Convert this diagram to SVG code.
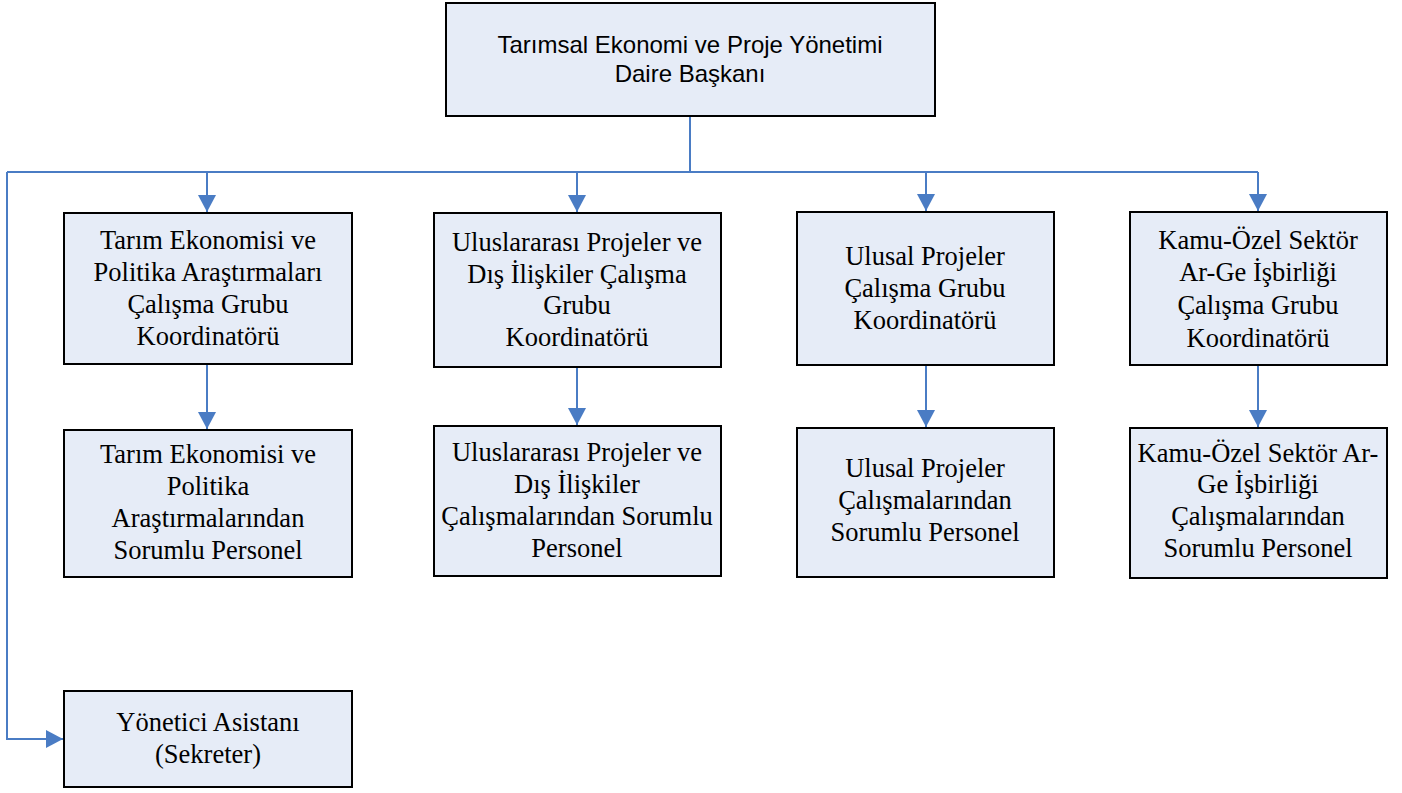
<svg xmlns="http://www.w3.org/2000/svg" width="1402" height="793" viewBox="0 0 1402 793">
<style>
.box{fill:#E6ECF7;stroke:#000;stroke-width:2}
.t{font-family:"Liberation Serif","Times New Roman",serif;font-size:26.5px;fill:#000;text-anchor:middle}
.s{font-family:"Liberation Sans",Arial,sans-serif;font-size:24px;fill:#000;text-anchor:middle}
.c{fill:none;stroke:#4A7CC4;stroke-width:2}
</style>
<defs>
<marker id="ah" markerWidth="17" markerHeight="18" viewBox="0 0 17 18" refX="17" refY="9" orient="auto" markerUnits="userSpaceOnUse">
<path d="M0,0 L17,9 L0,18 Z" fill="#4A7CC4"/>
</marker>
</defs>
<g id="connectors">
<path class="c" d="M690,116 V172"/>
<path class="c" d="M7,172 H1258"/>
<path class="c" d="M207,172 V212" marker-end="url(#ah)"/>
<path class="c" d="M577,172 V212" marker-end="url(#ah)"/>
<path class="c" d="M926,172 V211" marker-end="url(#ah)"/>
<path class="c" d="M1258,172 V211" marker-end="url(#ah)"/>
<path class="c" d="M207,364 V429" marker-end="url(#ah)"/>
<path class="c" d="M577,367 V425" marker-end="url(#ah)"/>
<path class="c" d="M926,365 V427" marker-end="url(#ah)"/>
<path class="c" d="M1258,365 V427" marker-end="url(#ah)"/>
<path class="c" d="M7,172 V739 H63" marker-end="url(#ah)"/>
</g>
<g id="n-top">
<rect class="box" x="446" y="3" width="489" height="113"/>
<text class="s" x="690" y="53">Tarımsal Ekonomi ve Proje Yönetimi</text>
<text class="s" x="690" y="82">Daire Başkanı</text>
</g>
<g id="n-c1">
<rect class="box" x="64" y="213" width="288" height="151"/>
<text class="t" x="208" y="249">Tarım Ekonomisi ve</text>
<text class="t" x="208" y="281">Politika Araştırmaları</text>
<text class="t" x="208" y="313">Çalışma Grubu</text>
<text class="t" x="208" y="345">Koordinatörü</text>
</g>
<g id="n-c2">
<rect class="box" x="434" y="213" width="287" height="154"/>
<text class="t" x="577" y="251">Uluslararası Projeler ve</text>
<text class="t" x="577" y="283">Dış İlişkiler Çalışma</text>
<text class="t" x="577" y="314">Grubu</text>
<text class="t" x="577" y="346">Koordinatörü</text>
</g>
<g id="n-c3">
<rect class="box" x="797" y="212" width="257" height="153"/>
<text class="t" x="925" y="265">Ulusal Projeler</text>
<text class="t" x="925" y="297">Çalışma Grubu</text>
<text class="t" x="925" y="329">Koordinatörü</text>
</g>
<g id="n-c4">
<rect class="box" x="1130" y="212" width="257" height="153"/>
<text class="t" x="1258" y="249">Kamu-Özel Sektör</text>
<text class="t" x="1258" y="281">Ar-Ge İşbirliği</text>
<text class="t" x="1258" y="314">Çalışma Grubu</text>
<text class="t" x="1258" y="347">Koordinatörü</text>
</g>
<g id="n-p1">
<rect class="box" x="64" y="430" width="288" height="147"/>
<text class="t" x="208" y="463">Tarım Ekonomisi ve</text>
<text class="t" x="208" y="495">Politika</text>
<text class="t" x="208" y="527">Araştırmalarından</text>
<text class="t" x="208" y="559">Sorumlu Personel</text>
</g>
<g id="n-p2">
<rect class="box" x="434" y="426" width="287" height="150"/>
<text class="t" x="577" y="461">Uluslararası Projeler ve</text>
<text class="t" x="577" y="493">Dış İlişkiler</text>
<text class="t" x="577" y="525">Çalışmalarından Sorumlu</text>
<text class="t" x="577" y="557">Personel</text>
</g>
<g id="n-p3">
<rect class="box" x="797" y="428" width="257" height="149"/>
<text class="t" x="925" y="477">Ulusal Projeler</text>
<text class="t" x="925" y="509">Çalışmalarından</text>
<text class="t" x="925" y="541">Sorumlu Personel</text>
</g>
<g id="n-p4">
<rect class="box" x="1130" y="428" width="257" height="150"/>
<text class="t" x="1258" y="462">Kamu-Özel Sektör Ar-</text>
<text class="t" x="1258" y="493">Ge İşbirliği</text>
<text class="t" x="1258" y="525">Çalışmalarından</text>
<text class="t" x="1258" y="557">Sorumlu Personel</text>
</g>
<g id="n-sec">
<rect class="box" x="64" y="691" width="288" height="96"/>
<text class="t" x="208" y="731">Yönetici Asistanı</text>
<text class="t" x="208" y="763">(Sekreter)</text>
</g>
</svg>
